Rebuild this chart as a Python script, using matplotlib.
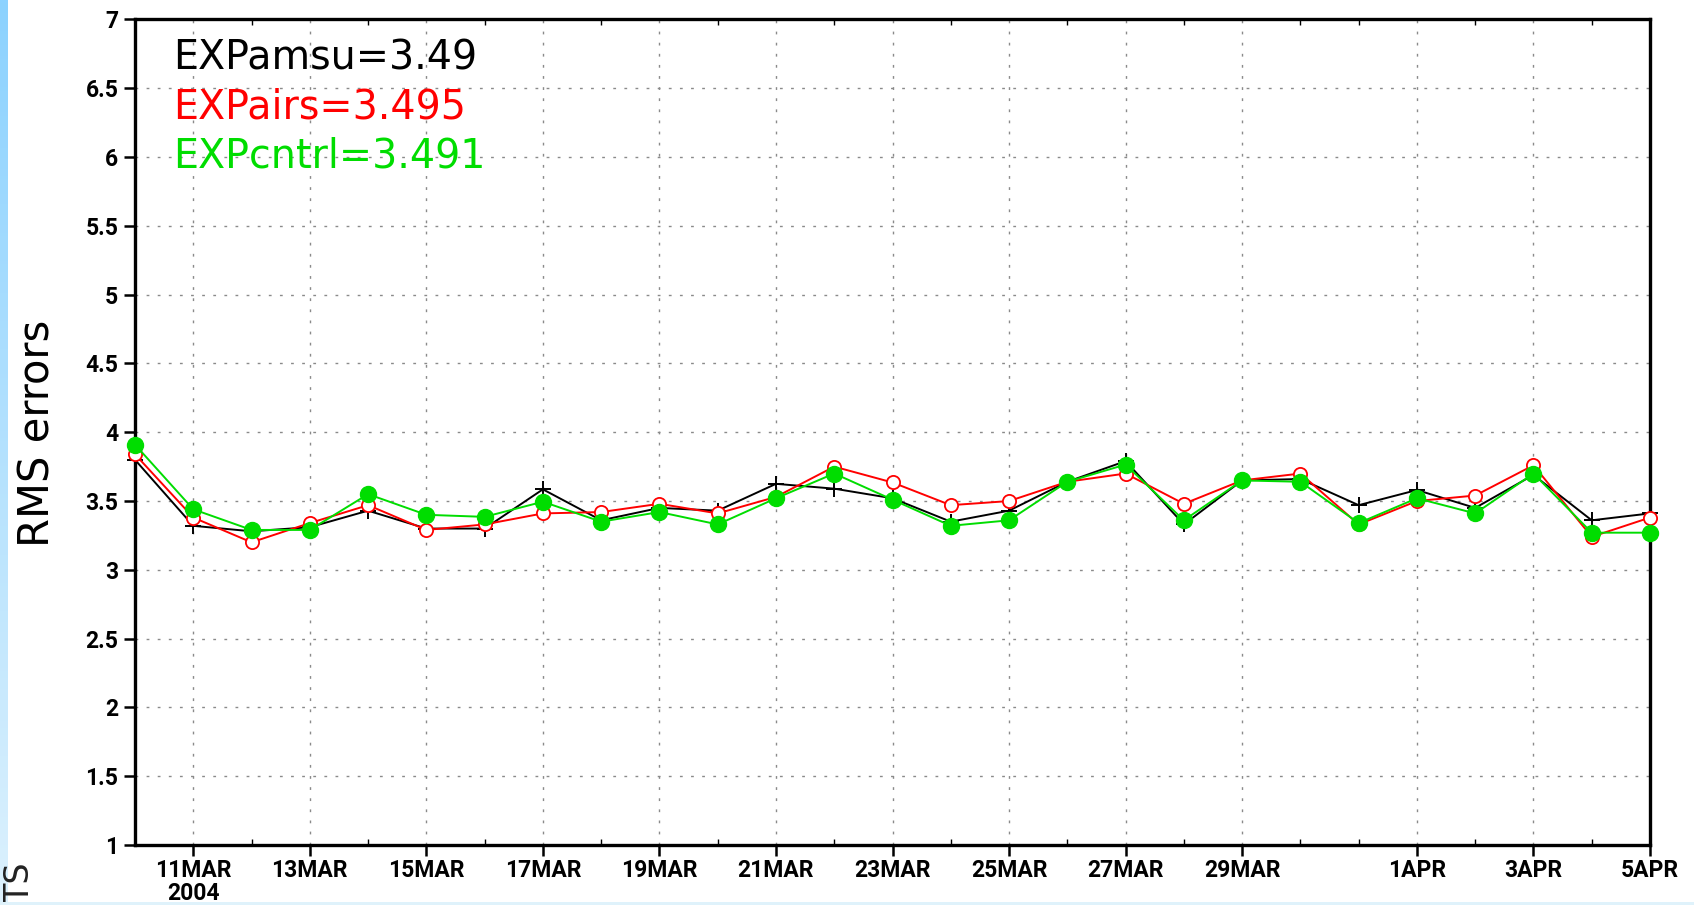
import datetime as dt
import numpy as np
import matplotlib
matplotlib.use("Agg")
import matplotlib.pyplot as plt
import matplotlib.dates as mdates
import matplotlib.transforms as mtransforms
from matplotlib.patches import Rectangle

# Daily RMS errors, 10 Mar - 5 Apr 2004
start = dt.date(2004, 3, 10)
days = [start + dt.timedelta(days=i) for i in range(27)]

exp_amsu = [3.80, 3.32, 3.28, 3.31, 3.43, 3.30, 3.30, 3.585, 3.36, 3.45,
            3.43, 3.625, 3.59, 3.52, 3.35, 3.43, 3.64, 3.79, 3.33, 3.65,
            3.66, 3.47, 3.58, 3.45, 3.69, 3.36, 3.41]
exp_airs = [3.84, 3.38, 3.20, 3.34, 3.47, 3.29, 3.33, 3.41, 3.42, 3.48,
            3.41, 3.53, 3.75, 3.635, 3.47, 3.50, 3.64, 3.70, 3.48, 3.65,
            3.70, 3.33, 3.50, 3.54, 3.76, 3.24, 3.38]
exp_cntrl = [3.91, 3.44, 3.29, 3.29, 3.55, 3.40, 3.385, 3.495, 3.35, 3.42,
             3.33, 3.52, 3.70, 3.51, 3.32, 3.36, 3.64, 3.765, 3.36, 3.65,
             3.64, 3.34, 3.52, 3.41, 3.70, 3.27, 3.27]

legend_texts = ["EXPamsu=3.49", "EXPairs=3.495", "EXPcntrl=3.491"]
series_colors = ["black", "#ff0000", "#00dd00"]

tick_dates = [dt.date(2004, 3, d) for d in (11, 13, 15, 17, 19, 21, 23, 25, 27, 29)] + \
             [dt.date(2004, 4, d) for d in (1, 3, 5)]
tick_labels = ["11MAR", "13MAR", "15MAR", "17MAR", "19MAR", "21MAR", "23MAR",
               "25MAR", "27MAR", "29MAR", "1APR", "3APR", "5APR"]
y_ticks = [1, 1.5, 2, 2.5, 3, 3.5, 4, 4.5, 5, 5.5, 6, 6.5, 7]
y_labels = ["1", "1.5", "2", "2.5", "3", "3.5", "4", "4.5", "5", "5.5", "6", "6.5", "7"]

W, H = 1694, 905
fig = plt.figure(figsize=(W / 100, H / 100), dpi=100)
fig.patch.set_facecolor("white")

# light-blue frame strips on the left and bottom edges
strip = fig.add_axes([0, 0, 8 / W, 1], zorder=-5)
grad = np.linspace(0, 1, 256).reshape(-1, 1)
cmap = matplotlib.colors.LinearSegmentedColormap.from_list("edge", ["#8cd2ff", "#dcf1fd"])
strip.imshow(grad, aspect="auto", cmap=cmap, extent=[0, 1, 0, 1], origin="upper")
strip.set_axis_off()
fig.patches.append(Rectangle((0, 0), 1, 3.5 / H, transform=fig.transFigure,
                             facecolor="#dff2fb", edgecolor="none", zorder=10))

ax = fig.add_axes([135 / W, 1 - 845 / H, (1650 - 135) / W, (845 - 19.5) / H])

tick_font = dict(family=["Roboto", "DejaVu Sans"], weight="bold")

# series: amsu (+), airs (open circles), cntrl (filled circles)
ax.plot(days, exp_amsu, color=series_colors[0], lw=1.4, marker="+", ms=11,
        mew=1.4, zorder=3, clip_on=False)
ax.plot(days, exp_airs, color=series_colors[1], lw=1.4, marker="o", ms=9.5,
        mfc="white", mec=series_colors[1], mew=1.3, zorder=4, clip_on=False)
ax.plot(days, exp_cntrl, color=series_colors[2], lw=1.4, marker="o", ms=11.5,
        mfc=series_colors[2], mec=series_colors[2], zorder=5, clip_on=False)

ax.set_xlim(days[0], days[-1])
ax.set_ylim(1, 7)

ax.set_xticks(tick_dates)
ax.set_xticklabels(tick_labels, fontsize=16.5, **tick_font)
ax.xaxis.set_minor_locator(mdates.DayLocator())
ax.set_yticks(y_ticks)
ax.set_yticklabels(y_labels, fontsize=16.5, **tick_font)

ax.tick_params(axis="x", which="major", direction="out", length=8, width=1.8, pad=2)
ax.tick_params(axis="x", which="minor", direction="in", length=4, width=1.0,
               top=True, bottom=True)
ax.tick_params(axis="y", which="major", direction="out", length=8, width=1.8, pad=4)

for s in ax.spines.values():
    s.set_linewidth(2.4)

ax.grid(True, which="major", color="#8a8a8a", lw=1.0, linestyle=(0, (2, 6)))
ax.set_axisbelow(True)

fig.text(38 / W, 1 - 433 / H, "RMS errors", rotation=90, fontsize=30,
         family="DejaVu Sans", ha="center", va="center")

# year under the first date label
year_tr = mtransforms.blended_transform_factory(ax.transData, fig.transFigure)
ax.text(mdates.date2num(dt.date(2004, 3, 11)), 1 - 893 / H, "2004",
        transform=year_tr, ha="center", va="center", fontsize=16.5, **tick_font)

# mean values of each experiment
for i, (txt, c) in enumerate(zip(legend_texts, series_colors)):
    fig.text(173 / W, 1 - (58 + 49.5 * i) / H, txt, color=c, fontsize=28.5,
             family="DejaVu Sans", ha="left", va="center")

fig.text(20 / W, 1 - 904 / H, "TS", rotation=90, fontsize=24, color="#222222",
         family="DejaVu Sans", ha="center", va="bottom")

fig.savefig("out.png", dpi=100)
